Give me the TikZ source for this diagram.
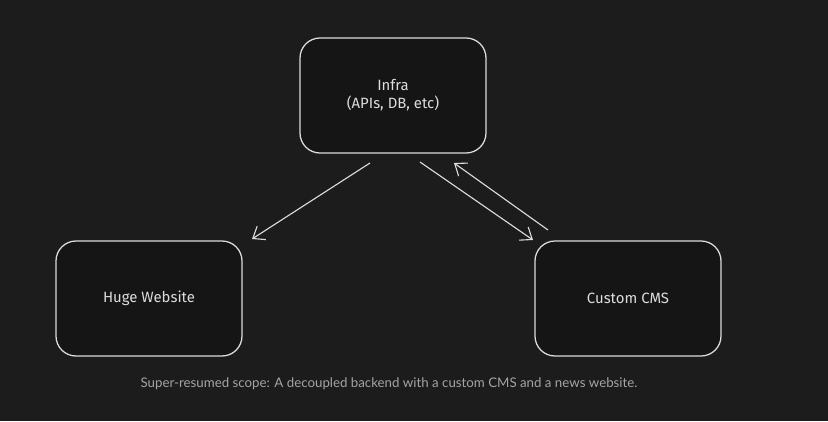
\documentclass[tikz,border=0pt]{standalone}
\usepackage{fontspec}
\setmainfont{Lato}
\newfontfamily\handfont{Fira Sans}
\usetikzlibrary{arrows.meta}
\definecolor{canvas}{HTML}{1C1C1C}
\definecolor{boxfill}{HTML}{151515}
\definecolor{chalk}{HTML}{DCDCDC}
\definecolor{caption}{HTML}{A4A4A4}

\tikzset{
    card/.style={draw=chalk, fill=boxfill, line width=0.9pt, rounded corners=0.5cm,
        minimum width=4.65cm, minimum height=2.875cm, align=center,
        text=chalk, font=\handfont\fontsize{10.6}{13}\selectfont},
    flow/.style={draw=chalk, line width=0.8pt, -{Straight Barb[length=2.6mm,width=4mm]}}
}

\begin{document}
\begin{tikzpicture}
    \fill[canvas] (0,0) rectangle (20.7,-10.525);
    \useasboundingbox (0,0) rectangle (20.7,-10.525);

    \node[card] (infra) at (9.825,-2.3875) {Infra\\(APIs, DB, etc)};
    \node[card] (site) at (3.725,-7.4625) {Huge Website};
    \node[card] (cms) at (15.7,-7.4625) {Custom CMS};

    \coordinate (infra-l) at (9.25,-4.075);
    \coordinate (site-in) at (6.3,-5.975);
    \coordinate (infra-r) at (10.5,-4.05);
    \coordinate (cms-in) at (13.325,-6.0);
    \coordinate (cms-out) at (13.7,-5.75);
    \coordinate (infra-in) at (11.35,-4.075);

    \draw[flow] (infra-l) -- (site-in);
    \draw[flow] (infra-r) -- (cms-in);
    \draw[flow] (cms-out) -- (infra-in);

    \node[text=caption, font=\fontsize{9.45}{11}\selectfont] (note) at (9.725,-9.6)
        {Super-resumed scope: A decoupled backend with a custom CMS and a news website.};
\end{tikzpicture}
\end{document}
